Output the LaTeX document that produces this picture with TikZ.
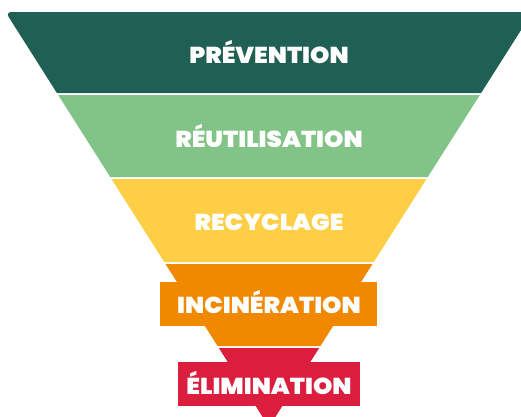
\documentclass[tikz,border=0pt]{standalone}
\usepackage{fontspec}
\newfontfamily\heavy{Poppins}[UprightFont=* Black,FakeStretch=1.07]
\definecolor{prevcol}{RGB}{32,96,84}
\definecolor{reutcol}{RGB}{130,196,136}
\definecolor{recycol}{RGB}{254,206,68}
\definecolor{incicol}{RGB}{241,137,0}
\definecolor{elimcol}{RGB}{219,29,62}
\tikzset{bandtext/.style={text=white,anchor=base,inner sep=0pt,font=\heavy\fontsize{23}{23}\selectfont}}

\begin{document}
\begin{tikzpicture}[x=1pt,y=-1pt]
        \clip (0,0) rectangle (521,416);
        % funnel bands, half width (427-y)*0.635 round x=269
        \fill[prevcol] (56.9,93) [rounded corners=6pt] -- (5.5,12) [sharp corners] -- (532.5,12) -- (481.1,93) -- cycle;
        \foreach \top/\bot/\col in {95/177/reutcol,179/262/recycol,264/346/incicol,348/427/elimcol}
            \fill[\col] ({269-(427-\top)*0.635},\top) -- ({269+(427-\top)*0.635},\top)
                -- ({269+(427-\bot)*0.635},\bot) -- ({269-(427-\bot)*0.635},\bot) -- cycle;
        \fill[incicol] (160,282) rectangle (377,326);
        \fill[elimcol] (178,362) rectangle (360,406);
        \node[bandtext] (prev) at (269,63) {PRÉVENTION};
        \node[bandtext] (reut) at (269,147) {RÉUTILISATION};
        \node[bandtext] (recy) at (269,230) {RECYCLAGE};
        \node[bandtext] (inci) at (269,313) {INCINÉRATION};
        \node[bandtext] (elim) at (269,394) {ÉLIMINATION};
    \end{tikzpicture}
\end{document}
